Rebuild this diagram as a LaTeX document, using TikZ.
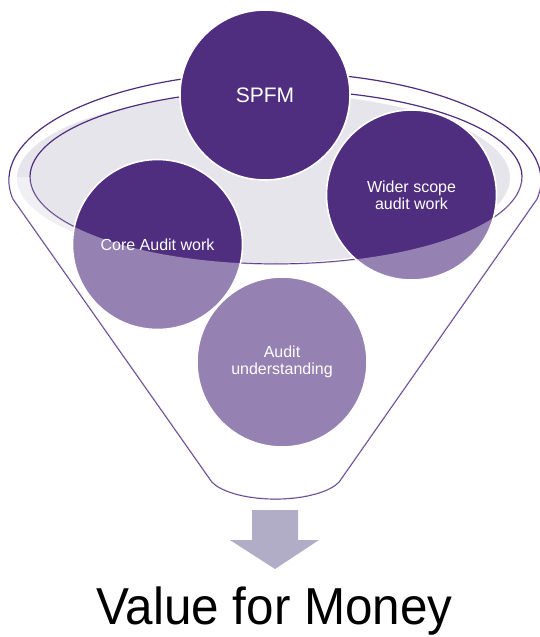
\documentclass[tikz,border=0pt]{standalone}
\usepackage{fontspec}
\setmainfont{Liberation Sans}
\usepackage{graphicx}

\definecolor{darkpurple}{RGB}{79,45,127}
\definecolor{rimgrey}{RGB}{230,229,235}
\definecolor{arrowgrey}{RGB}{178,173,198}

\begin{document}
\begin{tikzpicture}[x=0.5pt, y=0.5pt]
    \tikzstyle{rim}=[darkpurple, line width=0.6pt]
    \tikzstyle{bubble}=[circle, fill=darkpurple, draw=white, line width=0.8pt, minimum size=85pt, inner sep=0pt]
    \tikzstyle{bubbletext}=[text=white, align=center, font=\fontsize{8}{8.4}\selectfont]

    \useasboundingbox[fill=white] (0,0) rectangle (540,-637);

    % funnel body and its rim
    \draw[rim] (13,-199) arc[start angle=190, end angle=-10, x radius=266, y radius=108]
        -- (339,-482) arc[start angle=-20, end angle=-160, x radius=67.6, y radius=25.8] -- cycle;
    \fill[rimgrey] (263.5,-178) ellipse[x radius=246.5, y radius=85];
    \draw[rim] (276,-177) ellipse[x radius=246, y radius=87];

    \node[bubble] (spfm) at (265,-95) {};
    \node[bubble] (wider) at (411.5,-195) {};
    \node[bubble] (core) at (157.5,-244.5) {};
    \node[bubble] (understanding) at (282,-362) {};

    % everything below the rim is seen through the funnel
    \begin{scope}
        \clip (13,-199) arc[start angle=190, end angle=-10, x radius=266, y radius=108]
            -- (339,-482) arc[start angle=-20, end angle=-160, x radius=67.6, y radius=25.8] -- cycle;
        \fill[white, opacity=0.4] (30,-177) arc[start angle=180, end angle=360, x radius=246, y radius=87]
            -- (560,-177) -- (560,-520) -- (-20,-520) -- (-20,-177) -- cycle;
    \end{scope}

    \node[bubbletext, font=\fontsize{10.5}{12}\selectfont] (spfmtext) at (spfm) {SPFM};
    \node[bubbletext] (widertext) at (wider) {Wider scope\\audit work};
    \node[bubbletext] (coretext) at (core) {Core Audit work};
    \node[bubbletext] (understandingtext) at (understanding) {Audit\\understanding};

    % block arrow out of the funnel
    \fill[arrowgrey] (252,-510) -- (298,-510) -- (298,-540) -- (319,-540) -- (275,-569)
        -- (230,-540) -- (252,-540) -- cycle;

    \node[anchor=base, inner sep=0pt, font=\fontsize{26}{28}\selectfont] (vfm) at (274.5,-624)
        {\scalebox{0.95}[1]{Value for Money}};
\end{tikzpicture}
\end{document}
